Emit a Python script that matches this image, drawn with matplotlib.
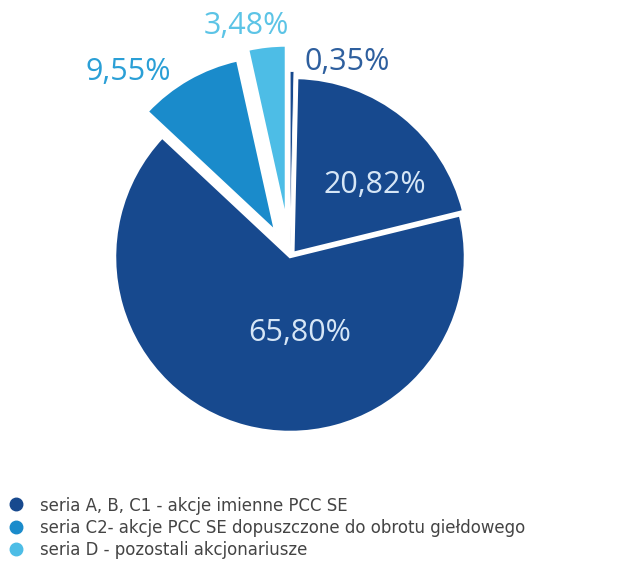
import matplotlib
matplotlib.use("Agg")
import matplotlib.pyplot as plt
from matplotlib.lines import Line2D

# udzialy w kapitale (kolejnosc zgodnie z ruchem wskazowek zegara od gory)
shares = [0.35, 20.82, 65.80, 9.55, 3.48]
share_labels = ["0,35%", "20,82%", "65,80%", "9,55%", "3,48%"]
explode = [0.06, 0.03, 0.0, 0.17, 0.21]

dark = "#17498e"
mid = "#1a8bcb"
light = "#4dbde6"
slice_colors = [dark, dark, dark, mid, light]

legend_labels = [
    "seria A, B, C1 - akcje imienne PCC SE",
    "seria C2- akcje PCC SE dopuszczone do obrotu giełdowego",
    "seria D - pozostali akcjonariusze",
]
legend_colors = [dark, mid, light]

W, H = 632, 583
cx, cy, R = 290, 257, 175  # srodek i promien kola w pikselach


def px(x, y):
    return (x - cx) / R, (cy - y) / R


fig = plt.figure(figsize=(W / 100, H / 100), dpi=100)
ax = fig.add_axes([0, 0, 1, 1])

wedges, _ = ax.pie(shares, explode=explode, colors=slice_colors, startangle=90,
                   counterclock=False, radius=1.0,
                   wedgeprops=dict(edgecolor="white", linewidth=1.8))
wedges[0].set_linewidth(0.6)

ax.set_xlim(-cx / R, (W - cx) / R)
ax.set_ylim(-(H - cy) / R, cy / R)
ax.set_aspect("equal")
ax.axis("off")

font = ["Open Sans", "DejaVu Sans"]
label_pos = [(347, 62), (375, 185), (300, 333), (128, 72), (246, 26)]
label_cols = ["#2e5f9e", "#d6e6f6", "#d6e6f6", "#2a9fd6", "#5cc4e6"]
for txt, (x, y), c in zip(share_labels, label_pos, label_cols):
    ax.text(*px(x, y), txt, ha="center", va="center", fontsize=22,
            color=c, family=font)

handles = [Line2D([], [], marker="o", linestyle="none", markersize=9,
                  markerfacecolor=c, markeredgecolor=c) for c in legend_colors]
fig.legend(handles, legend_labels, loc="upper left",
           bbox_to_anchor=(-0.012, 1 - 482 / H), frameon=False,
           prop=dict(family="DejaVu Sans", stretch="condensed", size=13.2),
           labelcolor="#444444", handletextpad=0.8, labelspacing=0.24,
           borderpad=0.3, handlelength=1.0)

fig.savefig("out.png", dpi=100)
